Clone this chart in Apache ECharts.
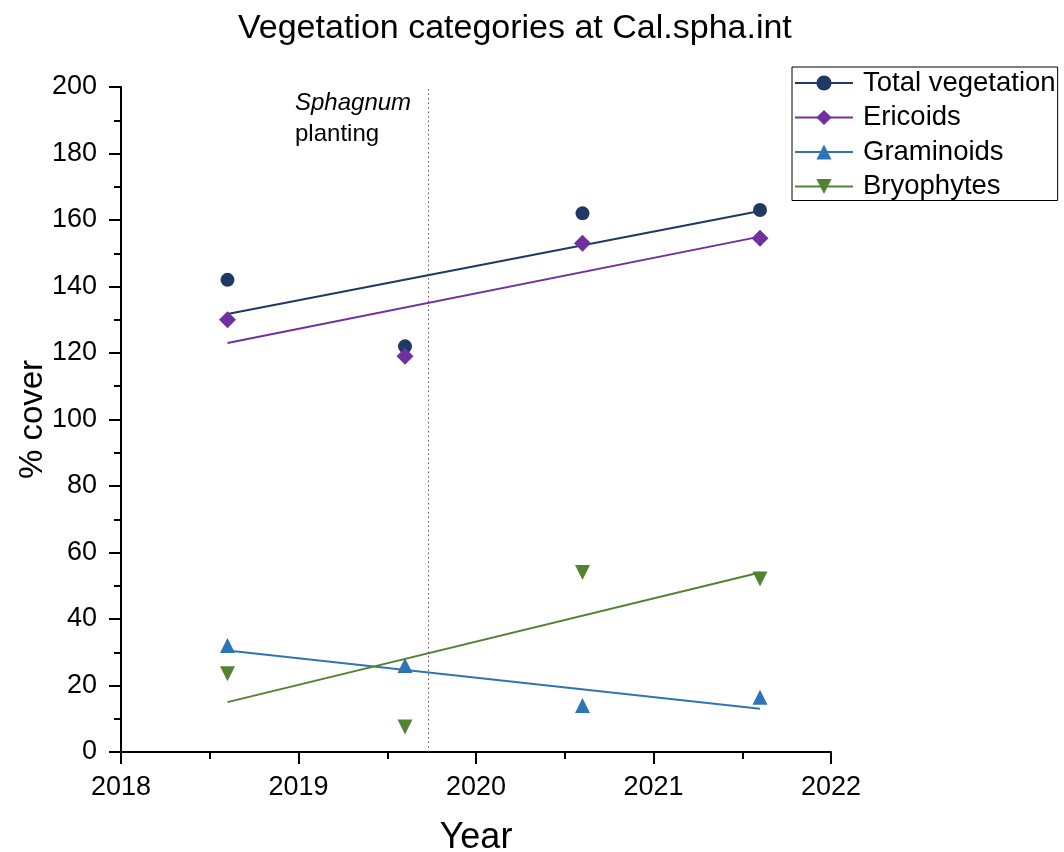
<!DOCTYPE html>
<html>
<head>
<meta charset="utf-8">
<script src="https://cdn.jsdelivr.net/npm/echarts@6/dist/echarts.min.js"></script>
<style>
  html, body { margin: 0; padding: 0; background: #fff; }
  #chart { width: 1064px; height: 852px; }
</style>
</head>
<body>
<div id="chart"></div>
<script>
// sampling years (mid-season surveys)
const years = [2018.6, 2019.6, 2020.6, 2021.6];

// observed % cover
const totalVeg   = [142, 122, 162, 163];
const ericoids   = [130, 119, 153, 154.5];
const graminoids = [32, 26, 14, 16.5];
const bryophytes = [23.5, 7.5, 54, 52];

// fitted trend line end points
const trendYears = [2018.6, 2021.6];
const totalFit   = [131.7, 162.7];
const ericoidFit = [123, 155];
const gramFit    = [30.5, 13];
const bryoFit    = [15, 54];

const plantingYear = 2019.735;

const FONT = 'Liberation Sans, Arial, sans-serif';

const groups = [
  { name: 'Total vegetation', color: '#1f3864', symbol: 'circle',   size: 14, rot: 0,   obs: totalVeg,   fit: totalFit },
  { name: 'Ericoids',         color: '#7030a0', symbol: 'diamond',  size: 17, rot: 0,   obs: ericoids,   fit: ericoidFit },
  { name: 'Graminoids',       color: '#2e75b6', symbol: 'triangle', size: 15, rot: 0,   obs: graminoids, fit: gramFit },
  { name: 'Bryophytes',       color: '#548235', symbol: 'triangle', size: 15, rot: 180, obs: bryophytes, fit: bryoFit }
];

const pair = (xs, ys) => xs.map((x, i) => [x, ys[i]]);

// trend lines first so the legend picks up the line+marker icon
const series = groups.map((g, i) => ({
  name: g.name,
  type: 'line',
  data: pair(trendYears, g.fit),
  symbol: g.symbol,
  symbolSize: g.size,
  symbolRotate: g.rot,
  showSymbol: false,
  lineStyle: { color: g.color, width: 2 },
  itemStyle: { color: g.color },
  z: 2,
  silent: true,
  markLine: i === 0 ? {
    silent: true,
    symbol: 'none',
    label: { show: false },
    lineStyle: { color: '#555', width: 1, type: [1.5, 3] },
    data: [{ xAxis: plantingYear }]
  } : undefined
}));

groups.forEach(g => {
  series.push({
    name: g.name,
    type: 'scatter',
    data: pair(years, g.obs),
    symbol: g.symbol,
    symbolSize: g.size,
    symbolRotate: g.rot,
    itemStyle: { color: g.color, opacity: 1 },
    z: 3
  });
});

const chart = echarts.init(document.getElementById('chart'), null, { renderer: 'canvas' });

chart.setOption({
  animation: false,
  backgroundColor: '#fff',
  textStyle: { fontFamily: FONT },
  title: {
    text: 'Vegetation categories at Cal.spha.int',
    left: 233,
    top: 7,
    textStyle: { fontFamily: FONT, fontSize: 34, fontWeight: 'normal', color: '#000' }
  },
  grid: { left: 121, right: 233, top: 87, bottom: 100, containLabel: false, outerBoundsMode: 'none' },
  legend: {
    orient: 'vertical',
    left: 792,
    top: 67,
    padding: [2, 2, 0, 2],
    itemWidth: 58,
    itemHeight: 19,
    itemGap: 6.5,
    borderColor: '#000',
    borderWidth: 1,
    borderRadius: 0,
    data: groups.map(g => g.name),
    textStyle: { fontFamily: FONT, fontSize: 27.5, color: '#000', padding: [0, 0, 0, 5] }
  },
  xAxis: {
    type: 'value',
    min: 2018,
    max: 2022,
    interval: 1,
    name: 'Year',
    nameLocation: 'middle',
    nameGap: 68,
    nameMoveOverlap: false,
    nameTextStyle: { fontFamily: FONT, fontSize: 36, color: '#000' },
    axisLine: { show: true, onZero: false, lineStyle: { color: '#000', width: 2 } },
    axisTick: { show: true, inside: false, length: 12, lineStyle: { color: '#000', width: 2 } },
    minorTick: { show: true, splitNumber: 2, length: 7, lineStyle: { color: '#000', width: 2 } },
    axisLabel: { fontFamily: FONT, fontSize: 27, color: '#000', margin: 22, formatter: v => String(v) },
    splitLine: { show: false }
  },
  yAxis: {
    type: 'value',
    min: 0,
    max: 200,
    interval: 20,
    name: '% cover',
    nameLocation: 'middle',
    nameGap: 72,
    nameMoveOverlap: false,
    nameTextStyle: { fontFamily: FONT, fontSize: 33, color: '#000' },
    axisLine: { show: true, onZero: false, lineStyle: { color: '#000', width: 2 } },
    axisTick: { show: true, inside: false, length: 12, lineStyle: { color: '#000', width: 2 } },
    minorTick: { show: true, splitNumber: 2, length: 7, lineStyle: { color: '#000', width: 2 } },
    axisLabel: { fontFamily: FONT, fontSize: 27, color: '#000', margin: 24 },
    splitLine: { show: false }
  },
  graphic: [{
    type: 'text',
    left: 295,
    top: 88,
    style: {
      text: '{it|Sphagnum}\nplanting',
      font: '24px ' + FONT,
      fill: '#000',
      lineHeight: 31,
      rich: { it: { fontStyle: 'italic', fontSize: 24, fontFamily: FONT, lineHeight: 31 } }
    }
  }],
  series: series
});
</script>
</body>
</html>
